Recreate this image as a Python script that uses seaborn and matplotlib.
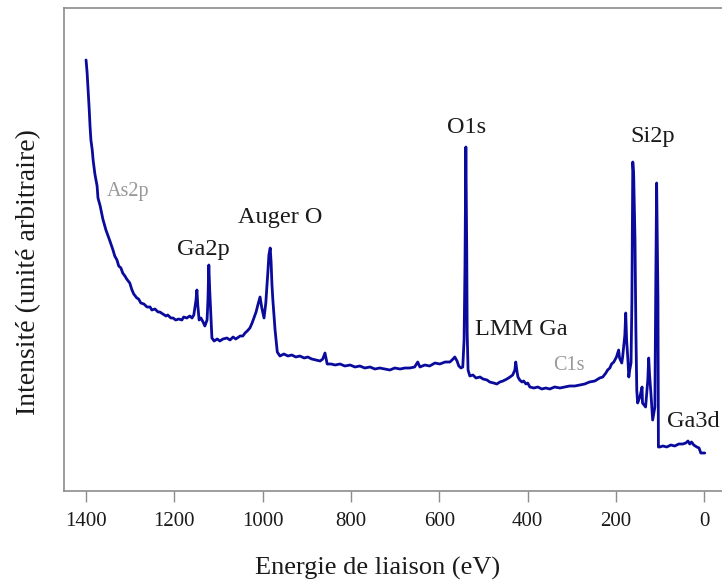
import matplotlib
matplotlib.use("Agg")
import matplotlib.pyplot as plt
import seaborn as sns
import pandas as pd

# Binding energy (eV) and intensity (arbitrary units)
energy = [1400, 1397.7, 1395.5, 1393, 1391, 1389, 1386, 1384, 1380, 1375, 1373, 1368, 1362, 1355,
          1350, 1346, 1339, 1335, 1330, 1326, 1321, 1317, 1312, 1308, 1301, 1296, 1292, 1285,
          1281, 1276, 1269, 1262, 1255, 1251, 1244, 1237, 1233, 1226, 1219, 1215, 1208, 1203,
          1197, 1190, 1183, 1179, 1172, 1165, 1160, 1156, 1151, 1149, 1147, 1144, 1140, 1135,
          1131, 1126, 1124, 1122, 1120, 1117, 1115, 1110, 1103, 1097, 1090, 1081, 1074, 1067,
          1061, 1051, 1045, 1040, 1035, 1029, 1024, 1020, 1015, 1011, 1006, 1002, 997, 993,
          988, 986, 983, 981, 979, 977, 972, 967, 961, 952, 943, 934, 925, 916, 906, 898, 889,
          880, 870, 864, 859, 854, 845, 836, 825, 814, 802, 791, 780, 769, 757, 746, 735, 723,
          712, 701, 689, 678, 667, 656, 649, 644, 633, 622, 610, 599, 587, 576, 569, 565, 560,
          556, 551, 547, 544, 542, 540, 538, 537, 535, 531, 524, 517, 508, 501, 492, 486, 477,
          470, 463, 456, 447, 440, 434, 429, 427, 424, 422, 418, 413, 409, 404, 400, 395, 386,
          377, 368, 359, 350, 339, 327, 316, 305, 293, 282, 271, 260, 248, 237, 230, 223, 219,
          214, 210, 205, 199, 194, 192, 187, 185, 180, 178, 176, 173, 171, 169, 166, 164, 162,
          160, 157, 155, 153, 151, 146, 141, 140, 133, 128, 126, 124, 121, 117, 112, 110, 108,
          105, 104, 101, 94, 85, 76, 67, 58, 49, 42, 37, 33, 29, 24, 17, 12, 8, -1]
intensity = [431, 419, 403, 383, 365, 351, 341, 331, 317, 305, 293, 285, 272, 261,
             255, 250, 241, 235, 231, 225, 223, 218, 215, 212, 208, 201, 197, 193,
             192, 188, 187, 184, 184, 181, 182, 179, 179, 177, 175, 176, 173, 173,
             171, 172, 171, 174, 173, 175, 173, 176, 191, 201, 186, 171, 173, 169,
             165, 171, 191, 226, 201, 171, 153, 150, 152, 150, 152, 153, 151, 154,
             152, 155, 155, 158, 160, 163, 168, 173, 179, 186, 194, 183, 173, 188,
             221, 236, 243, 229, 206, 191, 161, 139, 135, 137, 135, 136, 134, 135, 133, 134, 132,
             131, 130, 132, 138, 127, 127, 126, 127, 125, 126, 124, 125, 123, 124, 122, 123, 122,
             121, 123, 122, 123, 123, 124, 129, 124, 126, 125, 128, 127, 129, 129, 132, 134, 130,
             125, 123, 124, 151, 224, 344, 241, 158, 121, 115, 116, 113, 114, 112, 111, 109, 108,
             107, 109, 110, 112, 114, 116, 121, 129, 119, 114, 111, 109, 110, 107, 108, 104, 103,
             104, 102, 103, 102, 104, 103, 104, 105, 105, 106, 107, 109, 110, 113, 114, 118, 121,
             123, 127, 129, 134, 141, 133, 128, 134, 156, 178, 151, 131, 114, 121, 128, 191, 329,
             316, 251, 161, 101, 88, 94, 104, 88, 84, 111, 133, 116, 98, 71, 84, 204, 308,
             191, 44, 44, 45, 44, 46, 45, 47, 47, 48, 50, 47, 49, 46, 44, 43, 38, 38]

peak_labels = ["As2p", "Ga2p", "Auger O", "O1s", "Si2p", "LMM Ga", "C1s", "Ga3d"]
label_energy = [1305, 1135, 961, 538, 117, 415, 307, 26]
label_intensity = [299, 241, 273, 363, 354, 161, 125, 70]
label_muted = [True, False, False, False, False, False, True, False]

x_ticks = [1400, 1200, 1000, 800, 600, 400, 200, 0]

df = pd.DataFrame({"energy": energy, "intensity": intensity})

sns.set_style("white")
plt.rcParams["font.family"] = ["Liberation Serif", "DejaVu Serif"]

fig = plt.figure(figsize=(7.22, 5.83), dpi=100)
ax = fig.add_axes([0.0886, 0.1578, 0.9114, 0.8285])

sns.lineplot(data=df, x="energy", y="intensity", ax=ax, sort=False,
             color="#0a0a9c", linewidth=2.0)

for lab, ex, iy, muted in zip(peak_labels, label_energy, label_intensity, label_muted):
    ax.text(ex, iy, lab, ha="center", va="center",
            fontsize=14.5 if muted else 17.5,
            color="#999999" if muted else "#1a1a1a")

ax.set_xlim(1450, -40)
ax.set_ylim(0, 483)
ax.set_xticks(x_ticks)
ax.set_xticklabels([str(t) for t in x_ticks])
ax.set_yticks([])
ax.set_xlabel("Energie de liaison (eV)", fontsize=19, color="#1a1a1a")
ax.set_ylabel("Intensité (unité arbitraire)", fontsize=20, color="#1a1a1a")
ax.xaxis.label.set_va("center")
ax.yaxis.label.set_va("center")
ax.xaxis.set_label_coords(0.477, -0.16)
ax.yaxis.set_label_coords(-0.053, 0.453)

for s in ["left", "top", "bottom"]:
    ax.spines[s].set_visible(True)
    ax.spines[s].set_color("#8c8c8c")
    ax.spines[s].set_linewidth(1.2)
ax.spines["right"].set_visible(False)
ax.tick_params(axis="x", direction="out", length=8, width=1, color="#8c8c8c",
               labelsize=15, labelcolor="#1a1a1a", pad=7, bottom=True)

fig.savefig("out.png", dpi=100)
